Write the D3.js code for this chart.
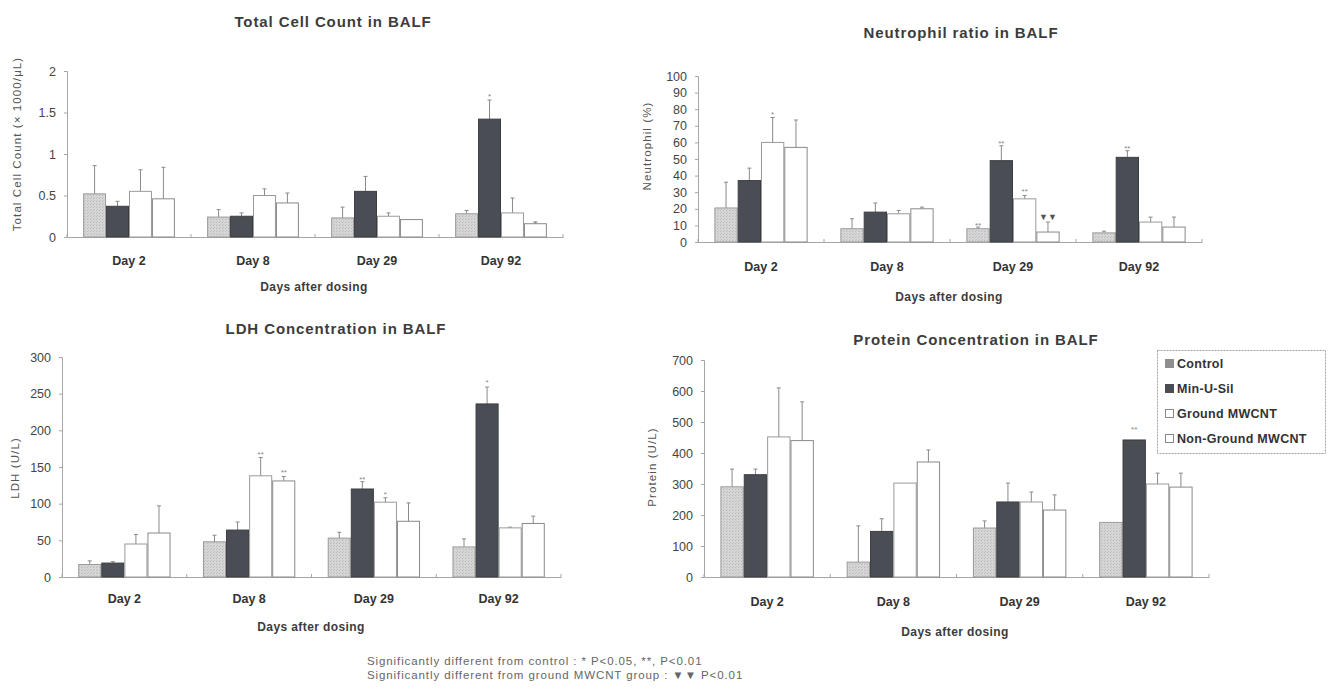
<!DOCTYPE html>
<html>
<head>
<meta charset="utf-8">
<script src="https://cdn.jsdelivr.net/npm/d3@7"></script>
<style>
  body { margin: 0; background: #fff; }
  text { font-family: "Liberation Sans", Arial, sans-serif; }
</style>
</head>
<body>
<script>
const days = ["Day 2", "Day 8", "Day 29", "Day 92"];
const groups = ["Control", "Min-U-Sil", "Ground MWCNT", "Non-Ground MWCNT"];

// one row per day, columns follow `groups`; *Err holds the top of the error bar
const cellMean = [[0.52, 0.37, 0.55, 0.46], [0.24, 0.25, 0.50, 0.41], [0.23, 0.55, 0.25, 0.21], [0.28, 1.42, 0.29, 0.16]];
const cellErr = [[0.86, 0.43, 0.81, 0.84], [0.33, 0.29, 0.58, 0.53], [0.36, 0.73, 0.29, 0.21], [0.32, 1.65, 0.47, 0.18]];

const neutroMean = [[20.5, 37, 60, 57], [8, 18, 17, 20], [8, 49, 26, 6], [5.5, 51, 12, 9]];
const neutroErr = [[36, 44.5, 75, 73.5], [14, 23.5, 19, 21], [9, 58, 28, 12], [6.5, 55, 15, 15]];

const ldhMean = [[17, 19, 45, 60], [48, 64, 138, 131], [53, 120, 102, 76], [41, 236, 67, 73]];
const ldhErr = [[22, 21, 58, 97], [57, 75, 163, 137], [61, 130, 108, 101], [52, 259, 68, 83]];

const proteinMean = [[291, 330, 452, 440], [48, 147, 303, 371], [158, 242, 242, 216], [176, 442, 300, 290]];
const proteinErr = [[348, 348, 610, 565], [165, 188, 303, 410], [181, 303, 274, 265], [176, 442, 335, 335]];

// significance marks: [day index, group index, label, value]
const cellMarks = [[3, 1, "*", 1.72], [3, 3, "*", 0.19]];
const neutroMarks = [[0, 2, "*", 78], [2, 0, "**", 11.5], [2, 1, "**", 61], [2, 2, "**", 32], [2, 3, "▼▼", 15], [3, 1, "**", 58]];
const ldhMarks = [[1, 2, "**", 170], [1, 3, "**", 145], [2, 1, "**", 136], [2, 2, "*", 115], [3, 1, "*", 268]];
const proteinMarks = [[3, 1, "**", 484]];

const cellTicks = [0, 0.5, 1, 1.5, 2];
const neutroTicks = d3.range(0, 101, 10);
const ldhTicks = [0, 50, 100, 150, 200, 250, 300];
const proteinTicks = [0, 100, 200, 300, 400, 500, 600, 700];

const W = 1337, H = 695;
const svg = d3.select("body").append("svg").attr("width", W).attr("height", H);

// stippled grey for the control bars
const defs = svg.append("defs");
const pat = defs.append("pattern").attr("id", "stipple")
  .attr("width", 3).attr("height", 3).attr("patternUnits", "userSpaceOnUse");
pat.append("rect").attr("width", 3).attr("height", 3).attr("fill", "#d6d6d6");
pat.append("rect").attr("x", 0).attr("y", 0).attr("width", 1).attr("height", 1).attr("fill", "#b8b8b8");
pat.append("rect").attr("x", 1).attr("y", 2).attr("width", 1).attr("height", 1).attr("fill", "#c2c2c2");

const fills = ["url(#stipple)", "#4a4e54", "#fff", "#fff"];
const strokes = ["#9a9a9a", "#3a3e42", "#9a9a9a", "#8a8a8a"];

const panels = [
  { title: "Total Cell Count in BALF", ylab: "Total Cell Count (× 1000/μL)", mean: cellMean, err: cellErr, marks: cellMarks,
    ticks: cellTicks, max: 2, left: 67, right: 563, top: 71, bottom: 237,
    titleX: 333, titleY: 22, dayY: 262, xlabX: 314, xlabY: 287, ylabX: 17, ylabY: 144 },
  { title: "Neutrophil ratio in BALF", ylab: "Neutrophil (%)", mean: neutroMean, err: neutroErr, marks: neutroMarks,
    ticks: neutroTicks, max: 100, left: 698, right: 1202, top: 76, bottom: 242,
    titleX: 961, titleY: 33, dayY: 268, xlabX: 949, xlabY: 297, ylabX: 647, ylabY: 146 },
  { title: "LDH Concentration in BALF", ylab: "LDH (U/L)", mean: ldhMean, err: ldhErr, marks: ldhMarks,
    ticks: ldhTicks, max: 300, left: 62, right: 561, top: 357, bottom: 577,
    titleX: 336, titleY: 329, dayY: 600, xlabX: 311, xlabY: 627, ylabX: 15, ylabY: 468 },
  { title: "Protein Concentration in BALF", ylab: "Protein (U/L)", mean: proteinMean, err: proteinErr, marks: proteinMarks,
    ticks: proteinTicks, max: 700, left: 704, right: 1209, top: 360, bottom: 577,
    titleX: 976, titleY: 340, dayY: 603, xlabX: 955, xlabY: 632, ylabX: 652, ylabY: 467 },
];

panels.forEach(drawPanel);

function drawPanel(p) {
  const g = svg.append("g");
  const x0 = d3.scaleBand().domain(days).range([p.left, p.right]).paddingInner(0.26).paddingOuter(0.13);
  const x1 = d3.scaleBand().domain(groups).range([0, x0.bandwidth()]);
  const y = d3.scaleLinear().domain([0, p.max]).range([p.bottom, p.top]);

  // y axis
  const ya = g.append("g").attr("transform", `translate(${p.left},0)`)
    .call(d3.axisLeft(y).tickValues(p.ticks).tickSize(3).tickPadding(8).tickFormat((d) => String(d)));
  ya.select(".domain").attr("stroke", "#a6a6a6");
  ya.selectAll(".tick line").attr("stroke", "#a6a6a6");
  ya.selectAll(".tick text").attr("fill", "#444").style("font-size", "12.5px");

  // x axis: day labels, small marks at the band edges
  const xa = g.append("g").attr("transform", `translate(0,${p.bottom})`)
    .call(d3.axisBottom(x0).tickSize(0).tickPadding(p.dayY - p.bottom - 6));
  xa.select(".domain").attr("stroke", "#a6a6a6");
  xa.selectAll(".tick text").attr("fill", "#333").style("font-size", "12.5px").style("font-weight", "bold");
  const step = x0.step();
  g.selectAll(".edge").data(d3.range(days.length + 1)).enter().append("line")
    .attr("x1", (k) => p.left + k * step).attr("x2", (k) => p.left + k * step)
    .attr("y1", p.bottom).attr("y2", p.bottom - 3).attr("stroke", "#a6a6a6");

  const cells = [];
  p.mean.forEach((row, di) => row.forEach((v, gi) => cells.push({ day: days[di], gi, v, e: p.err[di][gi] })));

  // error bars
  const eb = g.selectAll(".err").data(cells.filter((d) => d.e > d.v)).enter().append("g");
  eb.append("line")
    .attr("x1", (d) => x0(d.day) + x1(groups[d.gi]) + x1.bandwidth() / 2)
    .attr("x2", (d) => x0(d.day) + x1(groups[d.gi]) + x1.bandwidth() / 2)
    .attr("y1", (d) => y(d.v)).attr("y2", (d) => y(d.e))
    .attr("stroke", "#8a8a8a");
  eb.append("line")
    .attr("x1", (d) => x0(d.day) + x1(groups[d.gi]) + x1.bandwidth() / 2 - 2)
    .attr("x2", (d) => x0(d.day) + x1(groups[d.gi]) + x1.bandwidth() / 2 + 2)
    .attr("y1", (d) => y(d.e)).attr("y2", (d) => y(d.e))
    .attr("stroke", "#8a8a8a");

  // bars
  g.selectAll(".bar").data(cells).enter().append("rect")
    .attr("x", (d) => x0(d.day) + x1(groups[d.gi]) + 0.5)
    .attr("y", (d) => y(d.v))
    .attr("width", x1.bandwidth() - 1)
    .attr("height", (d) => p.bottom - y(d.v))
    .attr("fill", (d) => fills[d.gi])
    .attr("stroke", (d) => strokes[d.gi])
    .attr("stroke-width", 1);

  // significance marks
  g.selectAll(".mark").data(p.marks).enter().append("text")
    .attr("x", (d) => x0(days[d[0]]) + x1(groups[d[1]]) + x1.bandwidth() / 2)
    .attr("y", (d) => y(d[3]))
    .attr("text-anchor", "middle")
    .attr("dy", (d) => (d[2].startsWith("▼") ? "0.35em" : "0.6em"))
    .attr("fill", (d) => (d[2].startsWith("▼") ? "#555" : "#888"))
    .style("font-size", (d) => (d[2].startsWith("▼") ? "9px" : "8px"))
    .text((d) => d[2]);

  g.append("text").attr("x", p.titleX).attr("y", p.titleY).attr("dy", "0.35em")
    .attr("text-anchor", "middle").attr("fill", "#3c3c3c")
    .style("font-size", "15px").style("font-weight", "bold").style("letter-spacing", "0.9px")
    .text(p.title);

  g.append("text").attr("x", p.xlabX).attr("y", p.xlabY).attr("dy", "0.35em")
    .attr("text-anchor", "middle").attr("fill", "#3c3c3c")
    .style("font-size", "12px").style("font-weight", "bold").style("letter-spacing", "0.4px")
    .text("Days after dosing");

  g.append("text").attr("transform", `translate(${p.ylabX},${p.ylabY}) rotate(-90)`)
    .attr("dy", "0.35em").attr("text-anchor", "middle").attr("fill", "#555")
    .style("font-size", "11.5px").style("letter-spacing", "1.1px")
    .text(p.ylab);
}

// legend (sits in the protein panel)
const legend = svg.append("g");
legend.append("rect").attr("x", 1157.5).attr("y", 350.5).attr("width", 168).attr("height", 103)
  .attr("fill", "#fff").attr("stroke", "#a0a0a0").attr("stroke-dasharray", "2,1");
const legendFill = ["#8e8e8e", "#4a4e54", "#fff", "#fff"];
const legendY = d3.scalePoint().domain(groups).range([364, 439]);
groups.forEach((name, i) => {
  legend.append("rect").attr("x", 1165.5).attr("y", legendY(name) - 4.5).attr("width", 8).attr("height", 8)
    .attr("fill", legendFill[i]).attr("stroke", i < 2 ? legendFill[i] : "#888");
  legend.append("text").attr("x", 1177).attr("y", legendY(name)).attr("dy", "0.35em")
    .attr("fill", "#333").style("font-size", "12.5px").style("font-weight", "bold").style("letter-spacing", "0.3px")
    .text(name);
});

// footnote
const notes = [
  "Significantly different from control :  *  P<0.05,  **,  P<0.01",
  "Significantly different from ground MWCNT group :  ▼▼  P<0.01",
];
svg.selectAll(".note").data(notes).enter().append("text")
  .attr("x", 367).attr("y", (d, i) => 661 + i * 14).attr("dy", "0.35em")
  .attr("fill", "#666").style("font-size", "11.5px").style("letter-spacing", "0.9px")
  .text((d) => d);
</script>
</body>
</html>
